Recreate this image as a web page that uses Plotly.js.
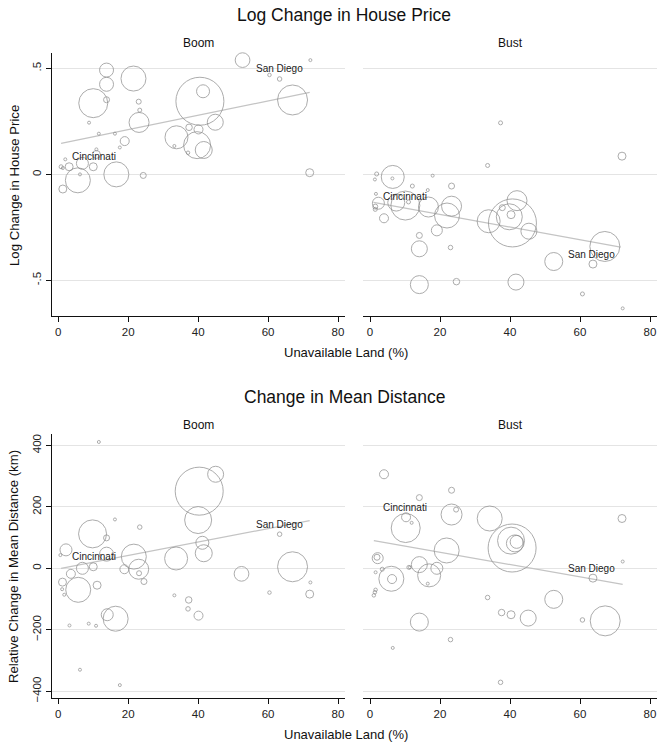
<!DOCTYPE html>
<html>
<head>
<meta charset="utf-8">
<script src="https://cdn.plot.ly/plotly-3.0.1.min.js"></script>
<style>html,body{margin:0;padding:0;background:#fff;}#chart{width:662px;height:744px;}</style>
</head>
<body>
<div id="chart"></div>
<script>
// ---------- Data ----------
// Panel 1: Boom, log change in house price
var boomPriceLand = [52.7,72.1,60.4,63.3,13.8,13.8,21.5,10.0,13.8,23.0,23.3,40.5,41.4,67.0,8.8,23.1,44.9,11.6,16.2,33.8,37.4,40.1,39.7,41.6,19.0,17.6,33.2,37.1,10.9,10.9,2.0,6.9,10.0,3.1,0.8,1.3,6.2,5.6,16.6,24.3,71.9,1.3];
var boomPriceVal  = [0.539,0.539,0.469,0.450,0.492,0.425,0.452,0.336,0.352,0.343,0.303,0.345,0.392,0.351,0.244,0.245,0.246,0.192,0.192,0.175,0.222,0.212,0.138,0.115,0.157,0.127,0.134,0.102,0.118,0.094,0.071,0.052,0.036,0.036,0.036,0.030,0.000,-0.028,0.000,-0.005,0.008,-0.069];
var boomPriceSize = [14.7,3,3.5,4.5,14,14,25,29,6,5,4,48,13,30,3,20,16,3,3,23,6.5,9,27,17,9,3,3,3.5,3,8,3,12,8,8,4,3,3,25,25,6,8,8];

// Panel 2: Bust, log change in house price
var bustPriceLand = [6.5,1.9,1.4,6.4,17.9,12.1,16.5,23.3,1.7,2.4,1.5,1.5,4.0,7.5,10.1,11.0,16.7,23.3,22.0,19.1,14.1,14.1,23.0,14.1,24.7,33.9,40.7,40.3,42.0,37.8,39.8,45.4,41.7,33.6,37.3,72.0,52.5,67.1,63.7,60.7,72.2];
var bustPriceVal  = [-0.012,0.002,-0.024,-0.019,-0.006,-0.055,-0.074,-0.055,-0.092,-0.136,-0.152,-0.165,-0.207,-0.133,-0.147,-0.130,-0.154,-0.150,-0.194,-0.264,-0.288,-0.351,-0.345,-0.520,-0.506,-0.221,-0.229,-0.190,-0.124,-0.157,-0.200,-0.268,-0.508,0.042,0.243,0.086,-0.411,-0.340,-0.423,-0.564,-0.632];
var bustPriceSize = [23,4,3,3,3,4,3,6,3,12,5,4,9,17,29,4,20,20,25,11,6,16,4.5,18,6.5,23,48,8,20,6,26,16,16,4,4,8,18,30,8,4,3];

// Panel 3: Boom, change in mean distance (km)
var boomDistLand = [11.6,40.3,45.0,40.0,16.2,23.3,9.8,13.8,2.2,0.6,13.8,41.2,41.6,33.7,21.6,23.0,18.9,23.1,24.5,6.9,10.0,3.6,1.2,1.1,1.7,5.7,11.1,14.0,16.4,3.2,8.7,10.8,6.2,17.6,33.2,37.3,37.1,40.1,52.4,67.0,60.4,63.3,72.1,71.9];
var boomDistVal  = [411,251,306,157,159,134,112,99,60,43,46,83,49,32,38,-3,-3,-16,-43,0,5,-18,-45,-68,-86,-70,-55,-151,-164,-186,-180,-187,-330,-380,-88,-103,-132,-154,-18,5,-79,111,-46,-84];
var boomDistSize = [3,48,16,27,3,4.5,28,6,12,3,14,13,17,23,25,20,9,5,6,12,8,9,8,3,3,25,8,12,25,3,3,3,3,3,3,6.5,4.5,9,14.7,30,3.5,4.5,3,8];

// Panel 4: Bust, change in mean distance (km)
var bustDistLand = [4.0,23.3,14.1,10.3,11.9,10.2,23.3,24.6,34.2,72.0,40.6,40.3,41.4,41.9,21.9,2.2,2.0,1.6,3.5,6.1,6.3,11.1,11.4,14.1,19.1,16.9,16.5,1.6,1.1,1.4,72.2,63.7,52.5,33.6,37.6,40.3,45.2,60.7,67.2,14.1,23.0,6.5,37.3];
var bustDistVal  = [306,254,230,166,148,131,175,191,162,162,66,90,81,86,58,33,36,-13,-3,-34,-35,3,3,12,0,-23,-50,-70,-88,-78,22,-32,-101,-95,-144,-151,-162,-168,-171,-175,-232,-259,-371];
var bustDistSize = [9,6,6,9,3,29,21,5,25,8,48,27,17,13,25,11,6,3,4,25,9,4,3,16,12,23,3,3.5,3.5,3.5,3,8,18,4.5,6.5,8,16,4.5,30,18,4.5,3,4.5];

// Fitted lines (end points)
var boomPriceFitX = [0.8, 71.9], boomPriceFitY = [0.146, 0.387];
var bustPriceFitX = [1.0, 71.6], bustPriceFitY = [-0.132, -0.343];
var boomDistFitX  = [0.8, 71.9], boomDistFitY  = [0, 155];
var bustDistFitX  = [1.1, 72.2], bustDistFitY  = [90, -52];

// Labelled cities: [land, boomPrice, bustPrice, boomDist, bustDist]
var cityNames = ["Cincinnati", "San Diego"];
var cityLand  = [10.1, 63.4];
var cityBoomPrice = [0.036, 0.450];
var cityBustPrice = [-0.153, -0.423];
var cityBoomDist  = [5, 111];
var cityBustDist  = [166, -32];

var xTicks = [0, 20, 40, 60, 80];
var priceTicks = [-0.5, 0, 0.5], priceTickText = ["-.5", "0", ".5"];
var distTicks = [-400, -200, 0, 200, 400];

// ---------- Styling ----------
var FONT = "Liberation Sans, Arial, Helvetica, sans-serif";
var markerLine = "#8a8a8a";
var fitColor = "#c4c4c4";
var gridColor = "#e4e4e4";

function bubbles(x, y, s, xa, ya) {
  return {type: "scatter", mode: "markers", x: x, y: y, xaxis: xa, yaxis: ya,
    marker: {symbol: "circle", size: s, sizemode: "diameter", color: "rgba(0,0,0,0)",
             line: {color: markerLine, width: 1}},
    hoverinfo: "skip", showlegend: false, cliponaxis: false};
}
function fit(x, y, xa, ya) {
  return {type: "scatter", mode: "lines", x: x, y: y, xaxis: xa, yaxis: ya,
    line: {color: fitColor, width: 1.2}, hoverinfo: "skip", showlegend: false};
}

var data = [
  fit(boomPriceFitX, boomPriceFitY, "x", "y"),
  bubbles(boomPriceLand, boomPriceVal, boomPriceSize, "x", "y"),
  fit(bustPriceFitX, bustPriceFitY, "x2", "y2"),
  bubbles(bustPriceLand, bustPriceVal, bustPriceSize, "x2", "y2"),
  fit(boomDistFitX, boomDistFitY, "x3", "y3"),
  bubbles(boomDistLand, boomDistVal, boomDistSize, "x3", "y3"),
  fit(bustDistFitX, bustDistFitY, "x4", "y4"),
  bubbles(bustDistLand, bustDistVal, bustDistSize, "x4", "y4")
];

var W = 662, H = 744;
function px(v) { return v / W; }
function py(v) { return 1 - v / H; }

var leftDom = [px(52), px(345)];
var rightDom = [px(363), px(657)];
var topDom = [py(316), py(52.7)];
var botDom = [py(697.7), py(434.3)];

var tickFont = {family: FONT, size: 11.5, color: "#222"};

function xAxis(dom, range, anchor) {
  return {domain: dom, range: range, anchor: anchor, showline: true, linecolor: "#111", linewidth: 1,
    ticks: "outside", ticklen: 5, tickwidth: 1, tickcolor: "#111", tickvals: xTicks,
    showgrid: false, zeroline: false, tickfont: tickFont, fixedrange: true};
}
function yAxis(dom, range, anchor, vals, text, left) {
  var a = {domain: dom, range: range, anchor: anchor, tickvals: vals, showgrid: true,
    gridcolor: gridColor, gridwidth: 1, zeroline: false, fixedrange: true, tickfont: tickFont};
  if (text) a.ticktext = text;
  if (left) {
    a.showline = true; a.linecolor = "#111"; a.linewidth = 1;
    a.ticks = "outside"; a.ticklen = 5; a.tickwidth = 1; a.tickcolor = "#111";
    a.tickangle = -90; a.showticklabels = true;
  } else {
    a.showline = false; a.ticks = ""; a.showticklabels = false;
  }
  return a;
}

var priceRange = [-0.668, 0.574];
var distRange = [-421, 436];

function ann(text, x, y, size, angle) {
  return {text: text, x: x, y: y, xref: "paper", yref: "paper", showarrow: false,
    xanchor: "center", yanchor: "middle", textangle: angle || 0,
    font: {family: FONT, size: size, color: "#111"}};
}
var annotations = [
  ann("Log Change in House Price", px(344), py(15), 17.5),
  ann("Change in Mean Distance", px(344), py(397), 17.5),
  ann("Boom", (leftDom[0] + leftDom[1]) / 2, py(43), 12),
  ann("Bust", (rightDom[0] + rightDom[1]) / 2, py(43), 12),
  ann("Boom", (leftDom[0] + leftDom[1]) / 2, py(425), 12),
  ann("Bust", (rightDom[0] + rightDom[1]) / 2, py(425), 12),
  ann("Unavailable Land (%)", px(346), py(352), 13),
  ann("Unavailable Land (%)", px(346), py(734), 13),
  ann("Log Change in House Price", px(14), py(186), 13.2, -90),
  ann("Relative Change in Mean Distance (km)", px(13), py(567), 13.2, -90)
];
var cityVals = [cityBoomPrice, cityBustPrice, cityBoomDist, cityBustDist];
var axPairs = [["x", "y"], ["x2", "y2"], ["x3", "y3"], ["x4", "y4"]];
for (var p = 0; p < 4; p++) {
  for (var c = 0; c < cityNames.length; c++) {
    annotations.push({text: cityNames[c], x: cityLand[c], y: cityVals[p][c],
      xref: axPairs[p][0], yref: axPairs[p][1], showarrow: false, xanchor: "center",
      yanchor: "middle", yshift: 10, font: {family: FONT, size: 10, color: "#222"}});
  }
}

var layout = {
  width: W, height: H, margin: {l: 0, r: 0, t: 0, b: 0},
  paper_bgcolor: "#fff", plot_bgcolor: "#fff", showlegend: false,
  font: {family: FONT, color: "#222"},
  xaxis: xAxis(leftDom, [-1.8, 82], "y"),
  yaxis: yAxis(topDom, priceRange, "x", priceTicks, priceTickText, true),
  xaxis2: xAxis(rightDom, [-2, 82], "y2"),
  yaxis2: yAxis(topDom, priceRange, "x2", priceTicks, priceTickText, false),
  xaxis3: xAxis(leftDom, [-1.8, 82], "y3"),
  yaxis3: yAxis(botDom, distRange, "x3", distTicks, null, true),
  xaxis4: xAxis(rightDom, [-2, 82], "y4"),
  yaxis4: yAxis(botDom, distRange, "x4", distTicks, null, false),
  annotations: annotations
};

Plotly.newPlot("chart", data, layout, {displayModeBar: false, staticPlot: true});
</script>
</body>
</html>
